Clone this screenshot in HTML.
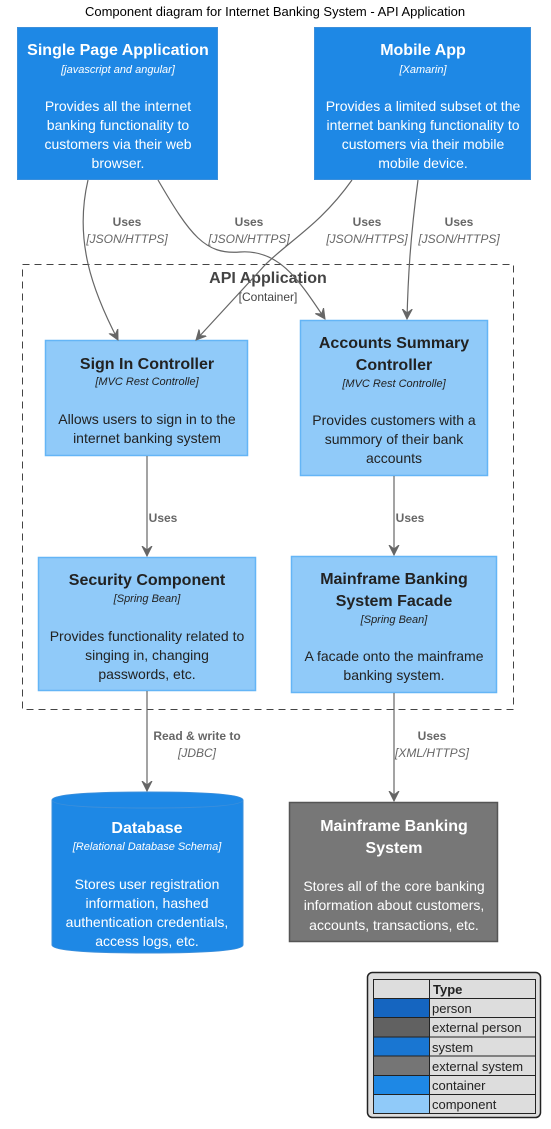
<!DOCTYPE html>
<html><head><meta charset="utf-8"><style>
html,body{margin:0;padding:0;background:#fff;}
svg{display:block;font-family:"Liberation Sans",Arial,sans-serif;}
</style></head><body>
<svg width="551" height="1129" viewBox="0 0 551 1129" xmlns="http://www.w3.org/2000/svg">
<defs>
<marker id="a" markerWidth="12" markerHeight="12" refX="10" refY="6" orient="auto" markerUnits="userSpaceOnUse">
<path d="M0,1 L10,6 L0,11 L4,6 Z" fill="#666" stroke="#666" stroke-width="1"/>
</marker>
</defs>
<text x="275" y="16" text-anchor="middle" font-size="13" fill="#000">Component diagram for Internet Banking System - API Application</text>

<!-- boundary -->
<rect x="22.5" y="264.5" width="491" height="445" fill="none" stroke="#444" stroke-dasharray="7,5"/>
<text x="268" y="283" text-anchor="middle" font-size="16" font-weight="bold" fill="#444">API Application</text>
<text x="268" y="301" text-anchor="middle" font-size="12" fill="#444">[Container]</text>

<!-- SPA -->
<rect x="17.5" y="27.5" width="200" height="152" fill="#1E88E5" stroke="#3C8FDB"/>
<g fill="#fff" text-anchor="middle">
<text x="118" y="55" font-size="16" font-weight="bold">Single Page Application</text>
<text x="118" y="73" font-size="11" font-style="italic">[javascript and angular]</text>
<text x="118" y="111" font-size="14">Provides all the internet</text>
<text x="118" y="130" font-size="14">banking functionality to</text>
<text x="118" y="149" font-size="14">customers via their web</text>
<text x="118" y="168" font-size="14">browser.</text>
</g>
<!-- Mobile -->
<rect x="314.5" y="27.5" width="216" height="152" fill="#1E88E5" stroke="#3C8FDB"/>
<g fill="#fff" text-anchor="middle">
<text x="423" y="55" font-size="16" font-weight="bold">Mobile App</text>
<text x="423" y="73" font-size="11" font-style="italic">[Xamarin]</text>
<text x="423" y="111" font-size="14">Provides a limited subset ot the</text>
<text x="423" y="130" font-size="14">internet banking functionality to</text>
<text x="423" y="149" font-size="14">customers via their mobile</text>
<text x="423" y="168" font-size="14">mobile device.</text>
</g>

<!-- components -->
<g fill="#90CAF9" stroke="#64B5F6" stroke-width="1.5">
<rect x="45.5" y="340.5" width="202" height="115"/>
<rect x="300.5" y="320.5" width="187" height="155"/>
<rect x="38.5" y="557.5" width="217" height="133"/>
<rect x="291.5" y="556.5" width="205" height="136"/>
</g>
<g fill="#222" text-anchor="middle">
<text x="147" y="369" font-size="16" font-weight="bold">Sign In Controller</text>
<text x="147" y="385" font-size="11" font-style="italic">[MVC Rest Controlle]</text>
<text x="147" y="424" font-size="14">Allows users to sign in to the</text>
<text x="147" y="443" font-size="14">internet banking system</text>

<text x="394" y="348" font-size="16" font-weight="bold">Accounts Summary</text>
<text x="394" y="370" font-size="16" font-weight="bold">Controller</text>
<text x="394" y="387" font-size="11" font-style="italic">[MVC Rest Controlle]</text>
<text x="394" y="425" font-size="14">Provides customers with a</text>
<text x="394" y="444" font-size="14">summory of their bank</text>
<text x="394" y="463" font-size="14">accounts</text>

<text x="147" y="585" font-size="16" font-weight="bold">Security Component</text>
<text x="147" y="602" font-size="11" font-style="italic">[Spring Bean]</text>
<text x="147" y="641" font-size="14">Provides functionality related to</text>
<text x="147" y="660" font-size="14">singing in, changing</text>
<text x="147" y="679" font-size="14">passwords, etc.</text>

<text x="394" y="584" font-size="16" font-weight="bold">Mainframe Banking</text>
<text x="394" y="606" font-size="16" font-weight="bold">System Facade</text>
<text x="394" y="623" font-size="11" font-style="italic">[Spring Bean]</text>
<text x="394" y="661" font-size="14">A facade onto the mainframe</text>
<text x="394" y="680" font-size="14">banking system.</text>
</g>

<!-- database -->
<path d="M52,800 Q52,792 147,792 Q243,792 243,800 L243,945 Q243,953 147,953 Q52,953 52,945 Z" fill="#1E88E5" stroke="#3C8FDB"/>
<path d="M52,800 Q52,808 147,808 Q243,808 243,800" fill="none" stroke="#3C8FDB"/>
<g fill="#fff" text-anchor="middle">
<text x="147" y="833" font-size="16" font-weight="bold">Database</text>
<text x="147" y="850" font-size="11" font-style="italic">[Relational Database Schema]</text>
<text x="147" y="889" font-size="14">Stores user registration</text>
<text x="147" y="908" font-size="14">information, hashed</text>
<text x="147" y="927" font-size="14">authentication credentials,</text>
<text x="147" y="946" font-size="14">access logs, etc.</text>
</g>

<!-- mainframe -->
<rect x="289.5" y="802.5" width="208" height="139" fill="#777" stroke="#555" stroke-width="1.5"/>
<g fill="#fff" text-anchor="middle">
<text x="394" y="831" font-size="16" font-weight="bold">Mainframe Banking</text>
<text x="394" y="853" font-size="16" font-weight="bold">System</text>
<text x="394" y="891" font-size="14">Stores all of the core banking</text>
<text x="394" y="910" font-size="14">information about customers,</text>
<text x="394" y="930" font-size="14">accounts, transactions, etc.</text>
</g>

<!-- connectors -->
<g fill="none" stroke="#666" stroke-width="1.2" marker-end="url(#a)">
<path d="M88,180 C74,240 92,290 118,340"/>
<path d="M158,180 C190,235 205,255 240,252 C280,249 300,282 325,319"/>
<path d="M352,180 C320,225 290,240 265,265 L196,340"/>
<path d="M418,180 C410,240 408,280 407,319"/>
<path d="M147,456 L147,556"/>
<path d="M394,476 L394,555"/>
<path d="M147,691 L147,791"/>
<path d="M394,693 L394,801"/>
</g>
<g fill="#666" text-anchor="middle">
<text x="127" y="226" font-size="12" font-weight="bold">Uses</text>
<text x="127" y="243" font-size="12" font-style="italic">[JSON/HTTPS]</text>
<text x="249" y="226" font-size="12" font-weight="bold">Uses</text>
<text x="249" y="243" font-size="12" font-style="italic">[JSON/HTTPS]</text>
<text x="367" y="226" font-size="12" font-weight="bold">Uses</text>
<text x="367" y="243" font-size="12" font-style="italic">[JSON/HTTPS]</text>
<text x="459" y="226" font-size="12" font-weight="bold">Uses</text>
<text x="459" y="243" font-size="12" font-style="italic">[JSON/HTTPS]</text>
<text x="163" y="522" font-size="12" font-weight="bold">Uses</text>
<text x="410" y="522" font-size="12" font-weight="bold">Uses</text>
<text x="197" y="740" font-size="12" font-weight="bold">Read &amp; write to</text>
<text x="197" y="757" font-size="12" font-style="italic">[JDBC]</text>
<text x="432" y="740" font-size="12" font-weight="bold">Uses</text>
<text x="432" y="757" font-size="12" font-style="italic">[XML/HTTPS]</text>
</g>

<!-- legend -->
<rect x="367.5" y="972.5" width="173" height="145" rx="5" fill="#ddd" stroke="#222" stroke-width="1.5"/>
<g stroke="#222" stroke-width="1">
<rect x="373.5" y="979.5" width="56" height="19" fill="#ddd"/>
<rect x="373.5" y="998.5" width="56" height="19" fill="#1565C0"/>
<rect x="373.5" y="1017.5" width="56" height="19.5" fill="#616161"/>
<rect x="373.5" y="1037" width="56" height="19" fill="#1976D2"/>
<rect x="373.5" y="1056" width="56" height="19.5" fill="#757575"/>
<rect x="373.5" y="1075.5" width="56" height="19" fill="#1E88E5"/>
<rect x="373.5" y="1094.5" width="56" height="19" fill="#90CAF9"/>
<rect x="429.5" y="979.5" width="106" height="134" fill="none"/>
<path d="M429.5,998.5 H535.5 M429.5,1017.5 H535.5 M429.5,1037 H535.5 M429.5,1056 H535.5 M429.5,1075.5 H535.5 M429.5,1094.5 H535.5" fill="none"/>
</g>
<g fill="#222" font-size="13">
<text x="433" y="994" font-weight="bold">Type</text>
<text x="432" y="1013">person</text>
<text x="432" y="1032">external person</text>
<text x="432" y="1052">system</text>
<text x="432" y="1071">external system</text>
<text x="432" y="1090">container</text>
<text x="432" y="1109">component</text>
</g>
</svg>
</body></html>
